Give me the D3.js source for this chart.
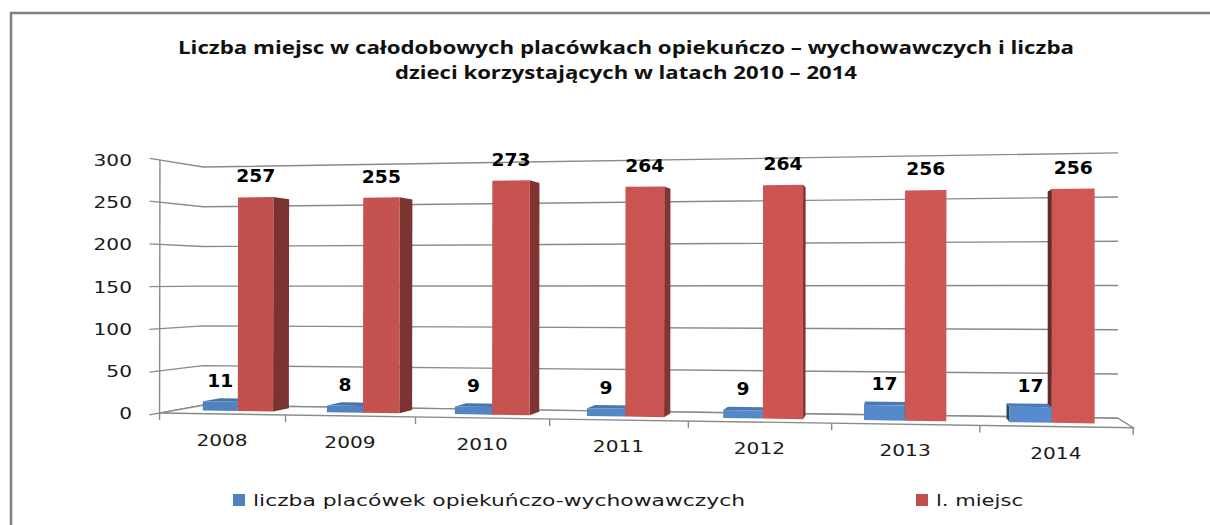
<!DOCTYPE html>
<html>
<head>
<meta charset="utf-8">
<script src="https://cdn.jsdelivr.net/npm/d3@7.9.0/dist/d3.min.js"></script>
<style>
  body { margin: 0; background: #fff; }
  svg { display: block; }
</style>
</head>
<body>
<div id="chart"></div>
<script>
const years = ["2008", "2009", "2010", "2011", "2012", "2013", "2014"];
const placowki = [11, 8, 9, 9, 9, 17, 17];
const miejsca = [257, 255, 273, 264, 264, 256, 256];
const seriesNames = ["liczba placówek opiekuńczo-wychowawczych", "l. miejsc"];
const seriesColors = ["#4F81BD", "#C0504D"];
const yTicks = [0, 50, 100, 150, 200, 250, 300];
const titleLines = [
  "Liczba miejsc w całodobowych placówkach opiekuńczo – wychowawczych i liczba",
  "dzieci korzystających w latach 2010 – 2014"
];

const width = 1210;
const height = 525;

// where the corners of the 3D plot box land on the page: [u, v, w, x, y]
// u = category axis 0..1, v = value axis 0..1, w = depth 0 (front) .. 1 (back)
const calib = [
  [0, 0, 0, 160, 413], [0, 1, 0, 160, 160], [0, 0.5, 0, 160, 286],
  [0, 0, 1, 203, 406], [0, 1, 1, 203, 167], [0, 0.5, 1, 203, 286],
  [1, 0, 1, 1118, 417], [1, 1, 1, 1118, 153], [1, 0.5, 1, 1118, 286],
  [1, 0, 0, 1133, 428],
  [1 / 7, 0, 0, 285, 415], [2 / 7, 0, 0, 415, 417], [3 / 7, 0, 0, 550, 419],
  [4 / 7, 0, 0, 688, 421], [5 / 7, 0, 0, 832, 423], [6 / 7, 0, 0, 980, 426]
];

// least squares fit of a perspective camera (DLT)
function fitProjection(pts) {
  const cx = 640, cy = 290, s = 500, n = 11;
  const M = d3.range(n).map(() => new Array(n + 1).fill(0));
  const add = (row, rhs) => {
    for (let i = 0; i < n; i++) {
      for (let j = 0; j < n; j++) M[i][j] += row[i] * row[j];
      M[i][n] += row[i] * rhs;
    }
  };
  pts.forEach(([u, v, w, x, y]) => {
    const X = (x - cx) / s, Y = (y - cy) / s;
    add([u, v, w, 1, 0, 0, 0, 0, -X * u, -X * v, -X * w], X);
    add([0, 0, 0, 0, u, v, w, 1, -Y * u, -Y * v, -Y * w], Y);
  });
  for (let c = 0; c < n; c++) {
    let p = c;
    for (let r = c + 1; r < n; r++) if (Math.abs(M[r][c]) > Math.abs(M[p][c])) p = r;
    [M[c], M[p]] = [M[p], M[c]];
    for (let r = 0; r < n; r++) {
      if (r === c) continue;
      const f = M[r][c] / M[c][c];
      for (let k = c; k <= n; k++) M[r][k] -= f * M[c][k];
    }
  }
  const p = M.map((row, i) => row[n] / row[i]);
  return (u, v, w) => {
    const d = p[8] * u + p[9] * v + p[10] * w + 1;
    return [
      cx + s * (p[0] * u + p[1] * v + p[2] * w + p[3]) / d,
      cy + s * (p[4] * u + p[5] * v + p[6] * w + p[7]) / d
    ];
  };
}

const proj = fitProjection(calib);

const x0 = d3.scaleBand().domain(years).range([0, 1]).paddingInner(0.43).paddingOuter(0.215);
const x1 = d3.scaleBand().domain([0, 1]).range([0, x0.bandwidth()]);
const yScale = d3.scaleLinear().domain([0, 300]).range([0, 1]);
const barFront = 0.38, barBack = 0.8;

const svg = d3.select("#chart").append("svg")
  .attr("width", width)
  .attr("height", height);

svg.append("rect").attr("width", width).attr("height", height).attr("fill", "#fff");

// outer frame
svg.append("path")
  .attr("d", `M11,${height} L11,13 L${width},13`)
  .attr("fill", "none")
  .attr("stroke", "#808080")
  .attr("stroke-width", 2.5);

function stretch(sel, k) {
  sel.each(function () {
    const len = this.getComputedTextLength();
    d3.select(this).attr("textLength", len * k).attr("lengthAdjust", "spacingAndGlyphs");
  });
}

// title
svg.selectAll(".title")
  .data(titleLines)
  .join("text")
  .attr("class", "title")
  .attr("x", 626)
  .attr("y", (d, i) => 54 + i * 25)
  .attr("text-anchor", "middle")
  .attr("font-family", "Open Sans")
  .attr("font-weight", 700)
  .attr("font-size", "17px")
  .attr("fill", "#111")
  .attr("textLength", (d, i) => [896, 462][i])
  .attr("lengthAdjust", "spacingAndGlyphs")
  .text(d => d);

const line = d3.line();
const P = (u, v, w) => proj(u, v, w);

// gridlines on side and back wall
const grid = svg.append("g").attr("fill", "none").attr("stroke", "#8a8a8a").attr("stroke-width", 1.4);
yTicks.forEach(t => {
  const v = yScale(t);
  grid.append("path").attr("d", line([P(0, v, -0.22), P(0, v, 1), P(1, v, 1)]));
});

// floor
grid.append("path")
  .attr("d", line([P(0, 0, 0), P(1, 0, 0), P(1, 0, 1), P(0, 0, 1)]) + "Z")
  .attr("fill", "#fff");

// value axis line
grid.append("path").attr("d", line([P(0, 0, 0), P(0, 1, 0)]));

// category ticks on floor front edge
d3.range(years.length + 1).forEach(i => {
  const [x, y] = P(i / years.length, 0, 0);
  grid.append("path").attr("d", line([[x, y], [x, y + 7]]));
});

// y tick labels
svg.append("g")
  .selectAll("text")
  .data(yTicks)
  .join("text")
  .attr("x", 132)
  .attr("y", d => P(0, yScale(d), 0)[1] + 6)
  .attr("text-anchor", "end")
  .attr("font-family", "DejaVu Sans")
  .attr("font-size", "15.5px")
  .attr("fill", "#1a1a1a")
  .text(d => d)
  .call(stretch, 1.3);

// category labels
svg.append("g")
  .selectAll("text")
  .data(years)
  .join("text")
  .attr("x", d => P(x0(d) + x0.bandwidth() / 2, 0, 0)[0])
  .attr("y", d => P(x0(d) + x0.bandwidth() / 2, 0, 0)[1] + 32)
  .attr("text-anchor", "middle")
  .attr("font-family", "DejaVu Sans")
  .attr("font-size", "15.5px")
  .attr("fill", "#1a1a1a")
  .text(d => d)
  .call(stretch, 1.3);

// bars
const bars = [];
years.forEach((yr, i) => {
  [placowki[i], miejsca[i]].forEach((val, s) => {
    const ua = x0(yr) + x1(s), ub = ua + x1.bandwidth();
    bars.push({ yr, s, val, ua, ub, vt: yScale(val) });
  });
});
bars.forEach(b => {
  b.dx = P(b.ua, b.vt, barBack)[0] - P(b.ua, b.vt, barFront)[0];
});
bars.sort((a, b) => Math.abs(b.dx) - Math.abs(a.dx));

const barG = svg.append("g");
bars.forEach(b => {
  const { ua, ub, vt } = b;
  const f = barFront, k = barBack;
  const base = d3.color(d3.interpolateRgb(seriesColors[b.s], d3.color(seriesColors[b.s]).brighter(0.25))((ua + ub) / 2));
  const face = (pts, fill) => barG.append("path").attr("d", line(pts.map(p => P(...p))) + "Z").attr("fill", fill);
  if (P(ub, vt, k)[0] > P(ub, vt, f)[0]) {
    face([[ub, 0, f], [ub, 0, k], [ub, vt, k], [ub, vt, f]], base.darker(1.3));
  }
  if (P(ua, vt, k)[0] < P(ua, vt, f)[0]) {
    face([[ua, 0, f], [ua, 0, k], [ua, vt, k], [ua, vt, f]], base.darker(2));
  }
  if (P(ua, vt, k)[1] < P(ua, vt, f)[1]) {
    face([[ua, vt, f], [ub, vt, f], [ub, vt, k], [ua, vt, k]], base.darker(0.35));
  }
  face([[ua, 0, f], [ub, 0, f], [ub, vt, f], [ua, vt, f]], base);
});

// value labels
svg.append("g")
  .selectAll("text")
  .data(bars)
  .join("text")
  .attr("x", d => P((d.ua + d.ub) / 2, d.vt, barFront)[0])
  .attr("y", d => P((d.ua + d.ub) / 2, d.vt, barFront)[1] - 15)
  .attr("text-anchor", "middle")
  .attr("font-family", "DejaVu Sans")
  .attr("font-weight", 700)
  .attr("font-size", "17px")
  .attr("fill", "#000")
  .text(d => d.val)
  .call(stretch, 1.1);

// legend
const legend = svg.append("g");
const legendX = [233, 916];
const legendW = [492, 87];
seriesNames.forEach((name, i) => {
  legend.append("rect")
    .attr("x", legendX[i]).attr("y", 494)
    .attr("width", 12).attr("height", 12)
    .attr("fill", seriesColors[i]);
  legend.append("text")
    .attr("x", legendX[i] + 20).attr("y", 506)
    .attr("font-family", "DejaVu Sans")
    .attr("font-size", "16.5px")
    .attr("fill", "#1a1a1a")
    .attr("textLength", legendW[i])
    .attr("lengthAdjust", "spacingAndGlyphs")
    .text(name);
});
</script>
</body>
</html>
